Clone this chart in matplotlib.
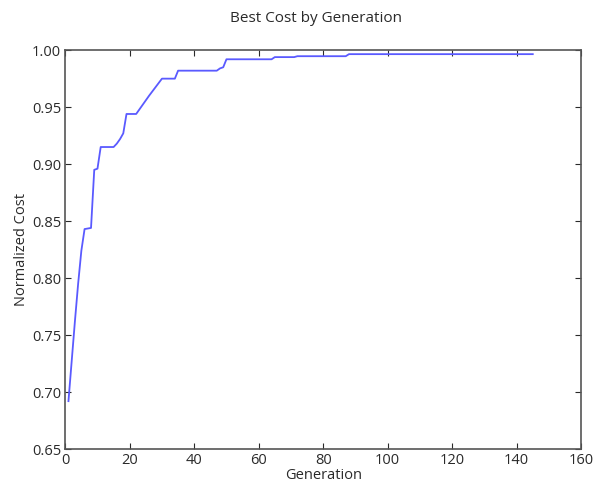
import matplotlib
matplotlib.use("Agg")
import matplotlib.pyplot as plt

plt.rcParams["font.family"] = ["Open Sans", "DejaVu Sans"]

# breakpoints of the best-cost curve (generation, normalized cost)
generations = [1, 2, 3, 4, 5, 6, 8, 9, 10, 11, 15, 16, 17, 18, 19, 22, 26, 30, 34, 35,
               47, 48, 49, 50, 64, 65, 71, 72, 87, 88, 145]
best_cost = [0.692, 0.727, 0.762, 0.795, 0.824, 0.843, 0.844, 0.895, 0.896, 0.915, 0.915,
             0.918, 0.922, 0.927, 0.944, 0.944, 0.960, 0.975, 0.975, 0.982,
             0.982, 0.984, 0.985, 0.992, 0.992, 0.9939, 0.9939, 0.9947, 0.9947, 0.9965, 0.9965]

x_ticks = [0, 20, 40, 60, 80, 100, 120, 140, 160]
y_ticks = [0.65, 0.70, 0.75, 0.80, 0.85, 0.90, 0.95, 1.00]

txt = "#2a2a2a"

fig = plt.figure(figsize=(5.93, 4.87), dpi=100, facecolor="white")
ax = fig.add_axes([0.110, 0.078, 0.870, 0.819])

ax.plot(generations, best_cost, color="#5a5aff", linewidth=1.3)

ax.set_xlim(0, 160)
ax.set_ylim(0.65, 1.00)
ax.set_xticks(x_ticks)
ax.set_yticks(y_ticks)
ax.set_yticklabels(["%.2f" % v for v in y_ticks])
ax.tick_params(direction="in", top=True, right=True, length=4, width=0.8,
               labelsize=10.5, colors=txt, pad=3)
for s in ax.spines.values():
    s.set_color("#555555")
    s.set_linewidth(1.2)

ax.set_xlabel("Generation", fontsize=10.5, labelpad=0, color=txt)
ax.set_ylabel("Normalized Cost", fontsize=10.5, labelpad=2, color=txt)
fig.text(0.533, 0.955, "Best Cost by Generation", fontsize=11, color=txt,
         ha="center", va="baseline")

fig.savefig("out.png", dpi=100, facecolor="white")
